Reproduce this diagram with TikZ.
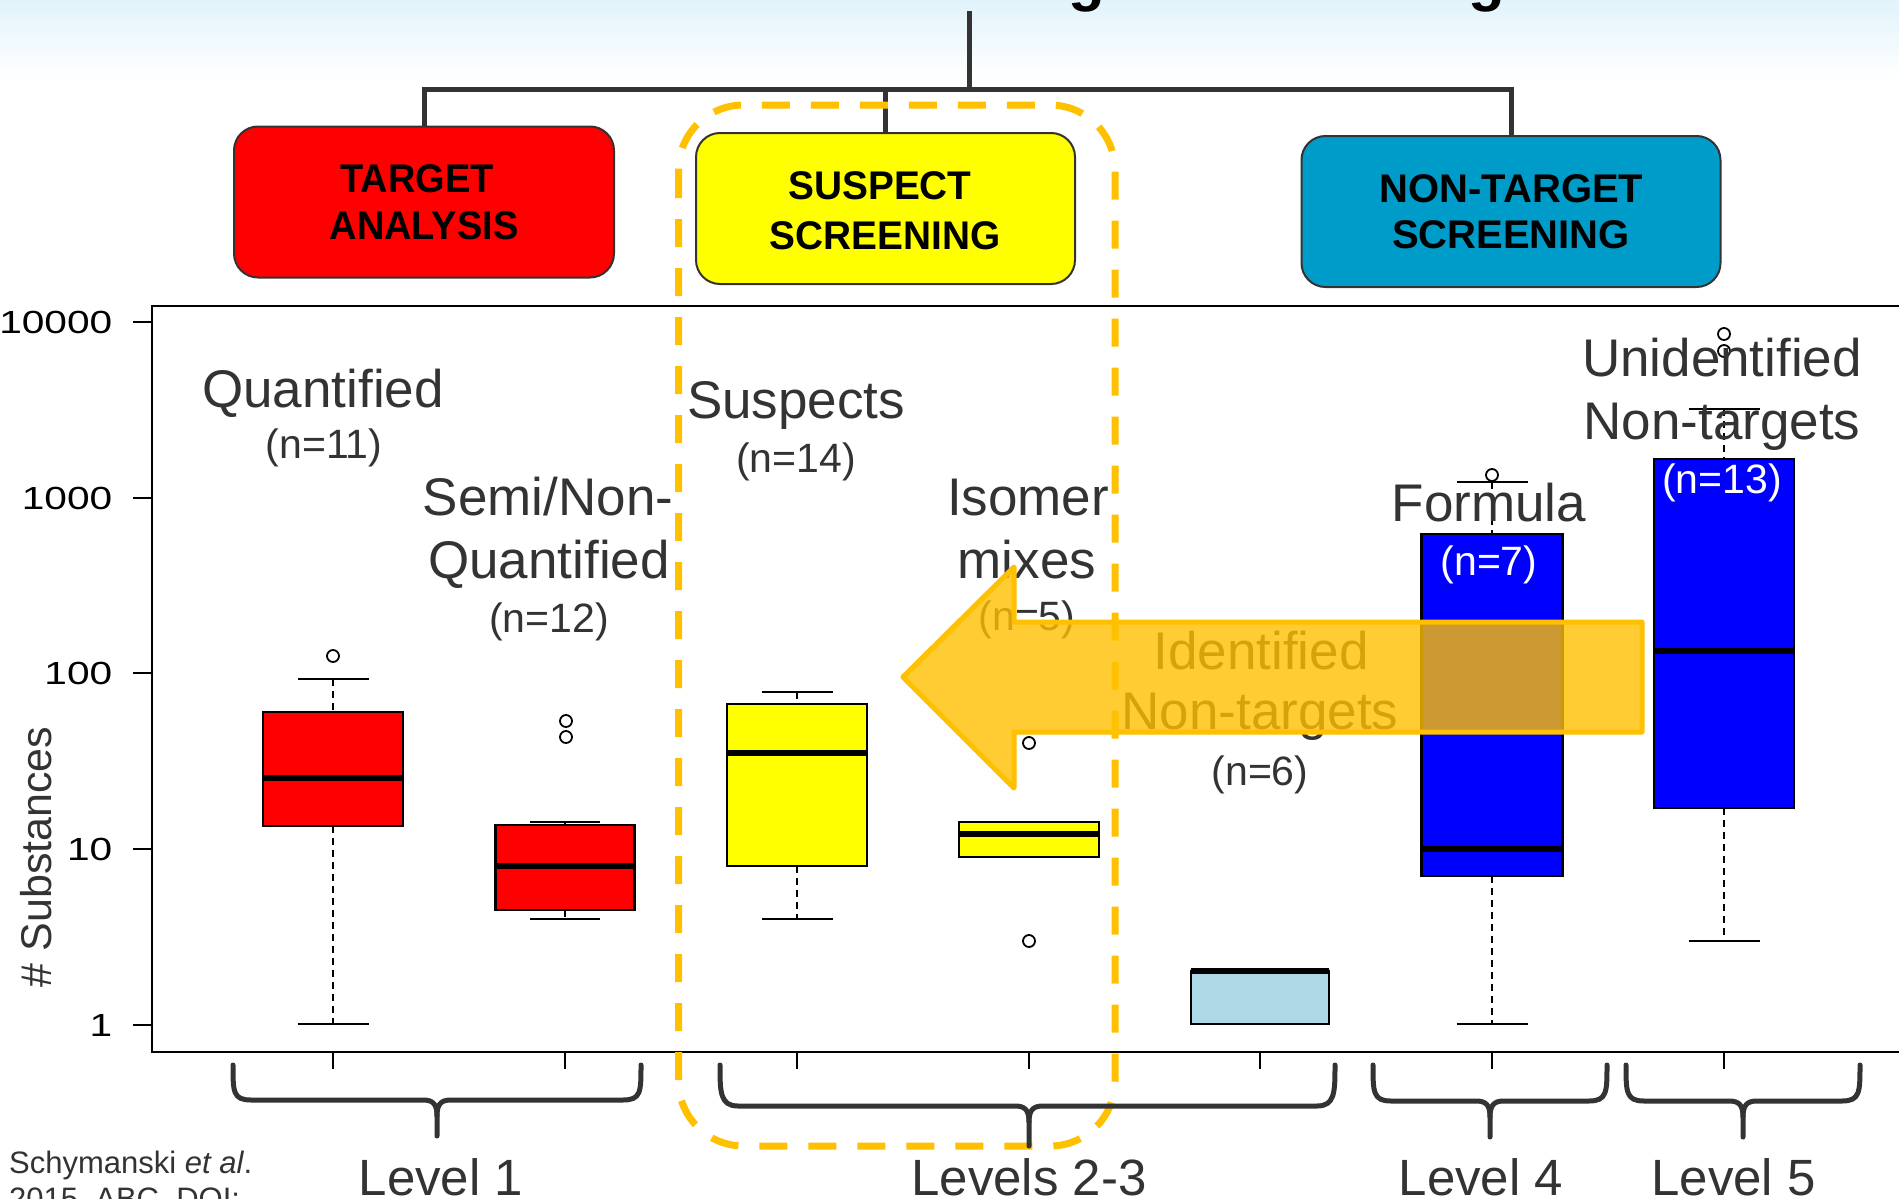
\documentclass[tikz,border=0pt]{standalone}
\usepackage{fontspec}
\setmainfont{Liberation Sans}
\usepackage{graphicx}
\usetikzlibrary{calc}
\definecolor{dk}{HTML}{333333}
\definecolor{tgtred}{HTML}{FF0000}
\definecolor{ssyel}{HTML}{FFFF00}
\definecolor{ntblue}{HTML}{009CC9}
\definecolor{bxblue}{HTML}{0000FF}
\definecolor{ltblue}{HTML}{ADD8E6}
\definecolor{orng}{HTML}{FFC000}
\definecolor{bgtop}{HTML}{E1F3FB}
\newcommand{\bxp}[9]{%
  \draw[whisk] (#1,#6) -- (#1,#3);
  \draw[whisk] (#1,#5) -- (#1,#7);
  \draw[capl] ({#1-#9},#6) -- ({#1+#9},#6);
  \draw[capl] ({#1-#9},#7) -- ({#1+#9},#7);
  \filldraw[boxl, fill=#8] ({#1-#2},#3) rectangle ({#1+#2},#5);
  \draw[medl] ({#1-#2},#4) -- ({#1+#2},#4);
}
\newcommand{\brc}[5]{%
  \draw[brcst] (#1,1065) .. controls (#1,1092) and (#1,#4) .. ({#1+18},#4) -- ({#3-14},#4) .. controls ({#3-4},#4) and (#3,{#4+4}) .. (#3,{#4+16}) -- (#3,#5);
  \draw[brcst] (#2,1065) .. controls (#2,1092) and (#2,#4) .. ({#2-18},#4) -- ({#3+14},#4) .. controls ({#3+4},#4) and (#3,{#4+4}) .. (#3,{#4+16});
}
\tikzset{
  tree/.style={draw=dk, line width=5},
  hdr/.style={draw=dk, line width=2, rounded corners=24, inner sep=0pt},
  hdrtxt/.style={inner sep=0pt, text=black, font=\fontsize{40}{46}\selectfont\bfseries},
  lbl/.style={inner sep=0pt, anchor=base, text=dk, font=\fontsize{53}{60}\selectfont},
  nlbl/.style={inner sep=0pt, anchor=base, text=dk, font=\fontsize{41}{48}\selectfont},
  ticklbl/.style={inner sep=0pt, anchor=east, text=black, font=\fontsize{32}{36}\selectfont},
  lvl/.style={inner sep=0pt, anchor=base, text=dk, font=\fontsize{51}{58}\selectfont},
  whisk/.style={draw=black, line width=2, dash pattern=on 7pt off 5pt},
  capl/.style={draw=black, line width=2},
  boxl/.style={draw=black, line width=2.5},
  medl/.style={draw=black, line width=6},
  outl/.style={draw=black, line width=1.8},
  brcst/.style={draw=dk, line width=5, line cap=round, line join=round},
  arrowst/.style={fill=orng, fill opacity=0.8, draw=orng, line width=5, line join=round},
  orngdash/.style={draw=orng, line width=7, dash pattern=on 28pt off 21pt, rounded corners=65},
}
\begin{document}
\begin{tikzpicture}[x=1pt,y=-1pt]
\useasboundingbox (0,0) rectangle (1899,1199);
\fill[white] (0,0) rectangle (1899,1199);
\shade[top color=bgtop, bottom color=white] (0,0) rectangle (1899,78);

% partial title descenders
\node[inner sep=0pt, anchor=base, font=\fontsize{60}{66}\selectfont\bfseries] (tg1) at (1087,0) {g};
\node[inner sep=0pt, anchor=base, font=\fontsize{60}{66}\selectfont\bfseries] (tg2) at (1487,0) {g};

% header boxes
\node[hdr, fill=tgtred, minimum width=380, minimum height=151] (ta) at (424,202) {};
\node[hdr, fill=ssyel, minimum width=379, minimum height=151] (ss) at (885.5,208.5) {};
\node[hdr, fill=ntblue, minimum width=419, minimum height=151] (nt) at (1511,211.5) {};
\node[hdrtxt] (ta1) at (417,179) {\scalebox{0.95}[1]{TARGET}};
\node[hdrtxt] (ta2) at (424,225.5) {\scalebox{0.95}[1]{ANALYSIS}};
\node[hdrtxt] (ss1) at (880,186) {\scalebox{0.97}[1]{SUSPECT}};
\node[hdrtxt] (ss2) at (885,236) {\scalebox{0.97}[1]{SCREENING}};
\node[hdrtxt] (nt1) at (1511.5,189) {NON-TARGET};
\node[hdrtxt] (nt2) at (1511,235) {SCREENING};

% tree connectors
\coordinate (root) at (969,11);
\coordinate (bus) at (969,90);
\draw[tree] (root) -- (bus);
\draw[tree] (ta.north) -- (ta.north |- bus) -- (nt.north |- bus) -- (nt.north);
\draw[tree] (ss.north) -- (ss.north |- bus);

% plot frame
\draw[black, line width=2.5] (1910,306) -- (152,306) -- (152,1052) -- (1910,1052);
\foreach \yy/\lab [count=\i] in {322/10000, 498/1000, 673/100, 849/10, 1025/1}{
  \draw[black, line width=2] (133,\yy) -- (152,\yy);
  \node[ticklbl] (yt\i) at (112.5,\yy) {\scalebox{1.27}[1]{\lab}};
}
\foreach \xx [count=\i] in {333,565,797,1029,1260,1492,1724}{
  \draw[black, line width=2] (\xx,1052) -- (\xx,1069);
}
\node[inner sep=0pt, rotate=90, text=dk, font=\fontsize{43}{48}\selectfont] (ylab) at (36,857) {\# Substances};

% box plots
\bxp{333}{70}{712}{778}{826}{679}{1024}{tgtred}{35.5}
\draw[outl] (333,656) circle (6);
\bxp{565}{69.5}{825}{866}{910}{822}{919}{tgtred}{35}
\draw[outl] (566,721) circle (6);
\draw[outl] (566,737) circle (6);
\bxp{797}{70}{704}{753}{866}{692}{919}{ssyel}{35.5}
\bxp{1029}{70}{822}{834}{857}{822}{857}{ssyel}{0}
\draw[outl] (1029,743) circle (6);
\draw[outl] (1029,941) circle (6);
\bxp{1260}{69}{971}{971}{1024}{971}{1024}{ltblue}{0}
\bxp{1492}{70.5}{534}{849}{876}{482}{1024}{bxblue}{35.5}
\draw[outl] (1492,475) circle (6);
\bxp{1724}{70}{459}{651}{808}{409}{941}{bxblue}{35.5}
\draw[outl] (1724,334) circle (6);
\draw[outl] (1724,351) circle (6);

% category labels
\node[lbl] (q1) at (323,407) {Quantified};
\node[nlbl] (q1n) at (324,458) {(n=11)};
\node[lbl] (sq1) at (548,515) {Semi/Non-};
\node[lbl] (sq2) at (549,578) {Quantified};
\node[nlbl] (sqn) at (549,632) {(n=12)};
\node[lbl] (su1) at (796,418) {Suspects};
\node[nlbl] (sun) at (796,472) {(n=14)};
\node[lbl] (im1) at (1028,515) {Isomer};
\node[lbl] (im2) at (1027,578) {mixes};
\node[nlbl] (imn) at (1027,630) {(n=5)};
\node[lbl] (id1) at (1261,669) {Identified};
\node[lbl] (id2) at (1260,729) {Non-targets};
\node[nlbl] (idn) at (1260,785) {(n=6)};
\node[lbl] (fo1) at (1489,521) {Formula};
\node[nlbl, text=white] (fon) at (1489,575) {(n=7)};
\node[lbl] (un1) at (1722,376) {Unidentified};
\node[lbl] (un2) at (1722,439) {Non-targets};
\node[nlbl, text=white] (unn) at (1722,493) {(n=13)};

% big arrow
\filldraw[arrowst] (903,677) -- (1014,567) -- (1014,622) -- (1642,622) -- (1642,732) -- (1014,732) -- (1014,788) -- cycle;

% dashed suspect region
\draw[orngdash] (678.5,105) rectangle (1115,1146);

% braces and levels
\brc{233}{641}{437}{1100}{1136}
\brc{720}{1335}{1029}{1106}{1146}
\brc{1373}{1607}{1490}{1101}{1137}
\brc{1626}{1860}{1743}{1101}{1137}
\node[lvl] (l1) at (441,1195) {Level 1};
\node[lvl] (l23) at (1029,1195) {Levels 2-3};
\node[lvl] (l4) at (1481,1195) {Level 4};
\node[lvl] (l5) at (1733.5,1195) {Level 5};

% citation
\node[inner sep=0pt, anchor=base west, text=dk, font=\fontsize{31}{36}\selectfont] (cit1) at (9,1173) {Schymanski \textit{et al}.};
\node[inner sep=0pt, anchor=base west, text=dk, font=\fontsize{31}{36}\selectfont] (cit2) at (9,1209) {2015, ABC, DOI:};
\end{tikzpicture}
\end{document}
